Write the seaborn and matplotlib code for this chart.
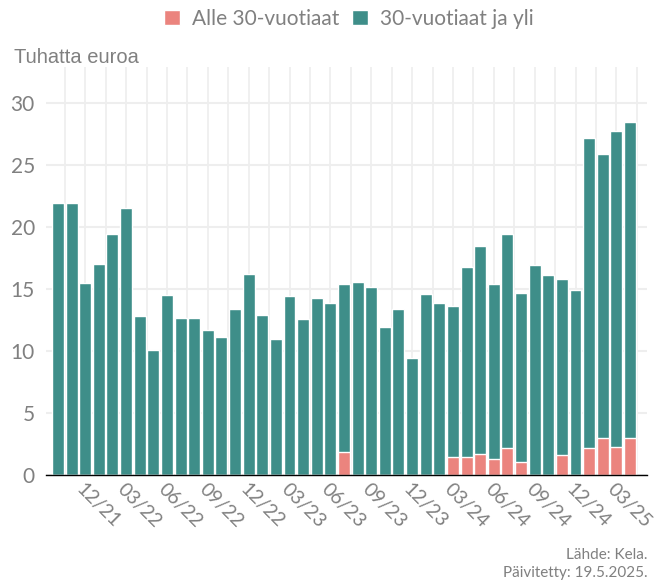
import numpy as np
import matplotlib
matplotlib.use("Agg")
import matplotlib.pyplot as plt
import pandas as pd
import seaborn as sns
from matplotlib.patches import Patch

# Kuukaudet 10/21 - 04/25
kuukaudet = pd.date_range("2021-10-01", "2025-04-01", freq="MS").strftime("%m/%y").tolist()

# Yhteensä (tuhatta euroa)
yhteensa = [21.9, 21.9, 15.5, 17.0, 19.4, 21.5, 12.8, 10.1, 14.5, 12.7,
            12.7, 11.7, 11.1, 13.4, 16.2, 12.9, 11.0, 14.4, 12.6, 14.3,
            13.9, 15.4, 15.6, 15.2, 11.9, 13.4, 9.4, 14.6, 13.9, 13.6,
            16.8, 18.5, 15.4, 19.4, 14.7, 16.9, 16.1, 15.8, 14.9, 27.2,
            25.9, 27.7, 28.5]

# Alle 30-vuotiaat
alle30 = [0, 0, 0, 0, 0, 0, 0, 0, 0, 0,
          0, 0, 0, 0, 0, 0, 0, 0, 0, 0,
          0, 1.85, 0, 0, 0, 0, 0, 0, 0, 1.45,
          1.45, 1.7, 1.3, 2.2, 1.05, 0, 0, 1.6, 0, 2.2,
          3.0, 2.25, 3.0]

yli30 = [t - a for t, a in zip(yhteensa, alle30)]

df = pd.DataFrame({"kk": kuukaudet, "yhteensa": yhteensa, "alle30": alle30, "yli30": yli30})

pinkki = "#EB847E"
turkoosi = "#3E8E89"
harmaa = "#808080"

sns.set_style("white")
plt.rcParams["font.family"] = ["Lato", "DejaVu Sans"]

fig = plt.figure(figsize=(6.65, 5.81), dpi=100)
ax = fig.add_axes([46 / 665, 106 / 581, 601 / 665, 408 / 581])

# pinottu: ensin kokonaispylväs, sitten alle 30-vuotiaiden osuus päälle
sns.barplot(data=df, x="kk", y="yhteensa", order=kuukaudet, color=turkoosi,
            saturation=1, width=0.88, ax=ax, zorder=2)
sns.barplot(data=df, x="kk", y="alle30", order=kuukaudet, color=pinkki,
            saturation=1, width=0.88, ax=ax, zorder=3)

ax.set_xlim(-0.88, 43.25)
ax.set_ylim(0, 32.9)

major = list(range(2, len(kuukaudet), 3))
ax.set_xticks(major)
ax.set_xticklabels([kuukaudet[i] for i in major], rotation=-45, ha="left",
                   va="top", rotation_mode="anchor", color=harmaa, fontsize=14)
ax.set_xticks(np.arange(0.5, 43, 3), minor=True)
ax.set_yticks(range(0, 31, 5))
ax.set_yticklabels([str(v) for v in range(0, 31, 5)], color=harmaa, fontsize=15)
ax.tick_params(axis="both", which="both", length=0)
ax.tick_params(axis="y", pad=8)
ax.tick_params(axis="x", pad=4)

ax.grid(True, which="both", axis="x", color="#eeeeee", lw=1.2, zorder=0)
ax.grid(True, which="major", axis="y", color="#eeeeee", lw=1.5, zorder=0)
ax.set_axisbelow(True)

ax.set_xlabel("")
ax.set_ylabel("")
for s in ["top", "right", "left"]:
    ax.spines[s].set_visible(False)
ax.spines["bottom"].set_color("black")
ax.spines["bottom"].set_linewidth(1)
ax.spines["bottom"].set_zorder(5)

fig.text(14 / 665, 1 - 63 / 581, "Tuhatta euroa", family="Liberation Sans",
         fontsize=14.5, color=harmaa, ha="left", va="baseline")

kahvat = [Patch(facecolor=pinkki, label="Alle 30-vuotiaat"),
          Patch(facecolor=turkoosi, label="30-vuotiaat ja yli")]
leg = fig.legend(handles=kahvat, loc="center", bbox_to_anchor=(349 / 665, 1 - 19 / 581),
                 ncol=2, frameon=False, prop={"size": 15},
                 handlelength=0.75, handleheight=0.75, handletextpad=0.6,
                 columnspacing=0.6)
for t in leg.get_texts():
    t.set_color(harmaa)

fig.text(648 / 665, 1 - 559 / 581, "Lähde: Kela.", fontsize=11, color=harmaa,
         ha="right", va="baseline")
fig.text(648 / 665, 1 - 577 / 581, "Päivitetty: 19.5.2025.", fontsize=11,
         color=harmaa, ha="right", va="baseline")

fig.savefig("out.png", dpi=100)
